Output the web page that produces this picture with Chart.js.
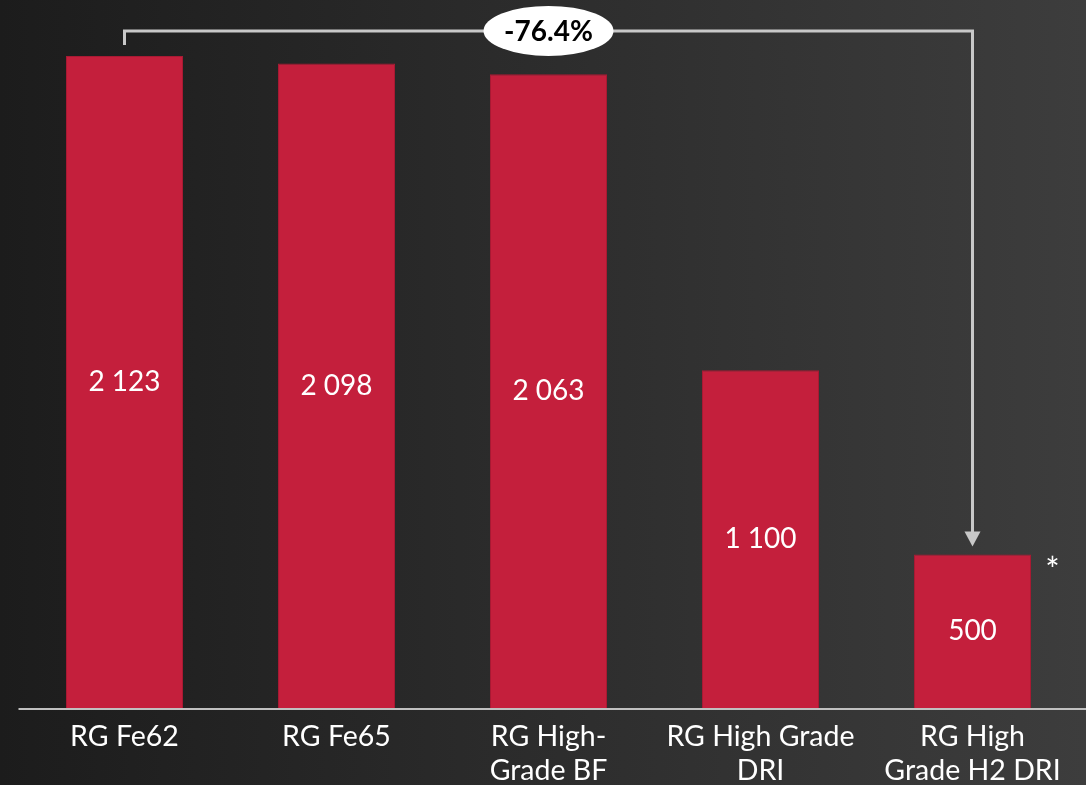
<!DOCTYPE html>
<html>
<head>
<meta charset="utf-8">
<script src="https://cdn.jsdelivr.net/npm/chart.js@4"></script>
<style>
  html, body { margin: 0; padding: 0; background: #2b2b2b; overflow: hidden; }
  canvas { display: block; }
</style>
</head>
<body>
<canvas id="myBarChart" width="1086" height="785"></canvas>
<script>
var categorias = [
  ["RG Fe62"],
  ["RG Fe65"],
  ["RG High-", "Grade BF"],
  ["RG High Grade", "DRI"],
  ["RG High", "Grade H2 DRI"]
];
var valores = [2123, 2098, 2063, 1100, 500];
var variacao = "-76.4%";
var nota = "*";

var ctx = document.getElementById("myBarChart");

function fmt(v) {
  return String(v).replace(/\B(?=(\d{3})+(?!\d))/g, " ");
}

// fundo degrade + linha base + rotulos + seta
var extras = {
  id: "extras",
  beforeDraw(chart) {
    var c = chart.ctx;
    var g = c.createLinearGradient(0, 0, chart.width, 0);
    g.addColorStop(0, "#1c1c1c");
    g.addColorStop(1, "#3d3d3d");
    c.save();
    c.fillStyle = g;
    c.fillRect(0, 0, chart.width, chart.height);
    c.restore();
  },
  afterDatasetsDraw(chart) {
    var c = chart.ctx;
    var x = chart.scales.x, y = chart.scales.y;
    var meta = chart.getDatasetMeta(0);
    c.save();

    // linha base
    var y0 = y.getPixelForValue(0);
    c.strokeStyle = "#c0c0c0";
    c.lineWidth = 2;
    c.beginPath();
    c.moveTo(chart.chartArea.left, y0 + 1);
    c.lineTo(chart.width, y0 + 1);
    c.stroke();

    // valores dentro das barras
    c.fillStyle = "#ffffff";
    c.font = "28px Lato";
    c.textAlign = "center";
    c.textBaseline = "middle";
    meta.data.forEach(function (bar, i) {
      c.fillText(fmt(valores[i]), bar.x, (bar.y + bar.base) / 2);
    });

    // seta de variacao
    var n = valores.length - 1;
    var xa = meta.data[0].x, xb = meta.data[n].x;
    var ya = meta.data[0].y - 11;
    var top = meta.data[0].y - 25;
    var tip = meta.data[n].y - 8;
    c.strokeStyle = "#c8c8c8";
    c.fillStyle = "#c8c8c8";
    c.lineWidth = 3;
    c.beginPath();
    c.moveTo(xa, ya);
    c.lineTo(xa, top);
    c.lineTo(xb, top);
    c.lineTo(xb, tip - 14);
    c.stroke();
    c.beginPath();
    c.moveTo(xb - 8, tip - 15);
    c.lineTo(xb + 8, tip - 15);
    c.lineTo(xb, tip);
    c.closePath();
    c.fill();

    // elipse
    var cx = (xa + xb) / 2;
    c.fillStyle = "#ffffff";
    c.beginPath();
    c.ellipse(cx, top, 65, 25, 0, 0, Math.PI * 2);
    c.fill();
    c.fillStyle = "#000000";
    c.font = "bold 28px Lato";
    c.fillText(variacao, cx, top + 1);

    // asterisco
    c.fillStyle = "#ffffff";
    c.font = "34px Lato";
    c.fillText(nota, meta.data[n].x + 80, meta.data[n].y + 17);

    c.restore();
  }
};

new Chart(ctx, {
  type: "bar",
  data: {
    labels: categorias,
    datasets: [
      {
        data: valores,
        backgroundColor: "#c41f3c",
        borderColor: "#a81a33",
        borderWidth: 1,
        barPercentage: 0.552,
        categoryPercentage: 1.0
      }
    ]
  },
  options: {
    responsive: false,
    animation: false,
    events: [],
    layout: { padding: { left: 18.5, right: 7.5, top: 20, bottom: 0 } },
    plugins: { legend: { display: false }, tooltip: { enabled: false } },
    scales: {
      x: {
        grid: { display: false, drawTicks: false },
        border: { display: false },
        ticks: {
          color: "#ffffff",
          font: { family: "Lato", size: 28.5, lineHeight: 1.2 },
          padding: 12,
          maxRotation: 0,
          autoSkip: false
        },
        afterFit: function (scale) { scale.height = 77; }
      },
      y: {
        display: false,
        min: 0,
        max: 2240
      }
    }
  },
  plugins: [extras]
});
</script>
</body>
</html>
